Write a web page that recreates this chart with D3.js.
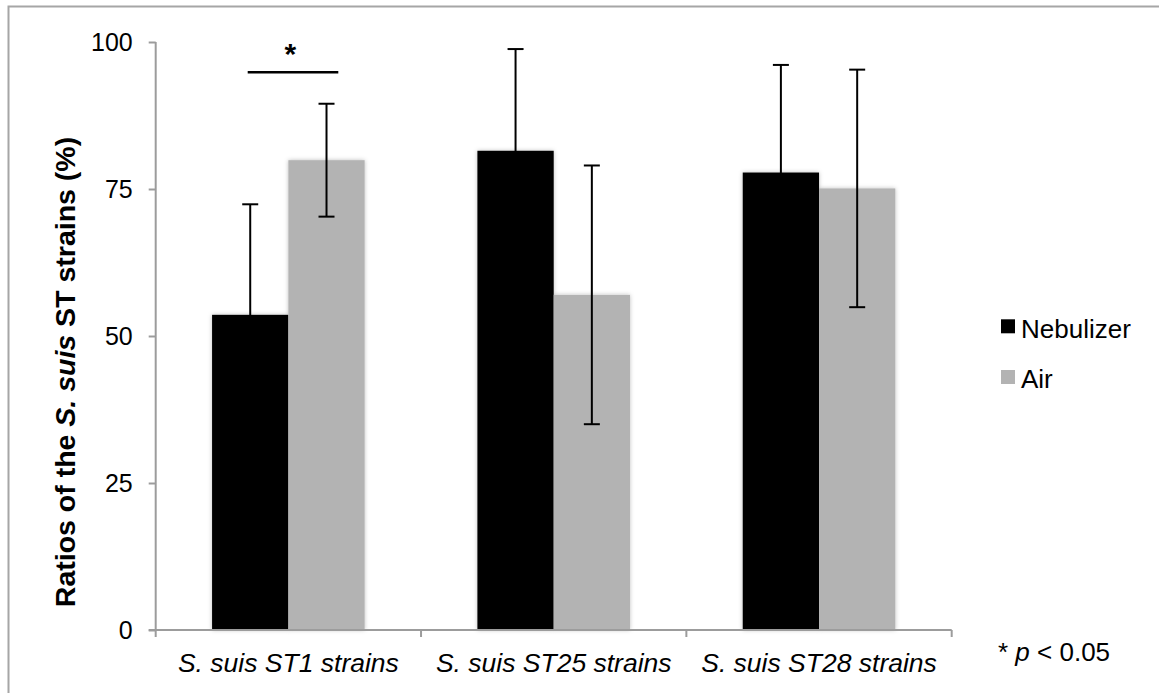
<!DOCTYPE html>
<html>
<head>
<meta charset="utf-8">
<script src="https://cdn.jsdelivr.net/npm/d3@7/dist/d3.min.js"></script>
<style>
  html, body { margin: 0; padding: 0; background: #fff; }
  svg { display: block; font-family: "Liberation Sans", Arial, Helvetica, sans-serif; }
</style>
</head>
<body>
<svg id="chart" width="1159" height="693"></svg>
<script>
const categories = ["S. suis ST1 strains", "S. suis ST25 strains", "S. suis ST28 strains"];
const seriesNames = ["Nebulizer", "Air"];
const nebulizer = [53.6, 81.5, 77.8];
const nebulizerErr = [18.8, 17.3, 18.3];
const air = [79.9, 57.0, 75.1];
const airErr = [9.6, 22.0, 20.2];
const yTicks = [0, 25, 50, 75, 100];
const colors = { Nebulizer: "#000000", Air: "#b3b3b3" };

const svg = d3.select("#chart");

// outer frame
svg.append("rect").attr("x", 8.5).attr("y", 6.5).attr("width", 1300).attr("height", 900)
  .attr("fill", "none").attr("stroke", "#a6a6a6").attr("stroke-width", 2);

const defs = svg.append("defs");
const f = defs.append("filter").attr("id", "shadow").attr("x", "-20%").attr("y", "-5%").attr("width", "140%").attr("height", "110%");
f.append("feDropShadow").attr("dx", 0).attr("dy", 0).attr("stdDeviation", 2).attr("flood-color", "#000").attr("flood-opacity", 0.25);

const pLeft = 155.7, pRight = 951.7, pTop = 42, pBottom = 630;

const x0 = d3.scaleBand().domain(categories).range([pLeft, pRight]).paddingInner(0).paddingOuter(0);
const x1 = d3.scaleBand().domain(seriesNames).range([0, x0.bandwidth()]).paddingInner(0).paddingOuter(0.739);
const y = d3.scaleLinear().domain([0, 100]).range([pBottom, pTop]);

const data = categories.map((c, i) => ({
  cat: c,
  vals: [
    { s: "Nebulizer", v: nebulizer[i], e: nebulizerErr[i] },
    { s: "Air", v: air[i], e: airErr[i] }
  ]
}));

// bars
const g = svg.append("g");
const groups = g.selectAll("g.grp").data(data).join("g").attr("class", "grp")
  .attr("transform", d => `translate(${x0(d.cat)},0)`);
groups.selectAll("rect").data(d => d.vals).join("rect")
  .attr("x", d => x1(d.s)).attr("width", x1.bandwidth())
  .attr("y", d => y(d.v)).attr("height", d => y(0) - y(d.v))
  .attr("fill", d => colors[d.s]).attr("filter", "url(#shadow)");

// error bars
const capW = 16;
groups.each(function(d) {
  const gg = d3.select(this);
  d.vals.forEach(v => {
    const cx = x1(v.s) + x1.bandwidth() / 2;
    gg.append("line").attr("x1", cx).attr("x2", cx).attr("y1", y(v.v + v.e)).attr("y2", y(v.v - v.e))
      .attr("stroke", "#000").attr("stroke-width", 2);
    [v.v + v.e, v.v - v.e].forEach(t => {
      gg.append("line").attr("x1", cx - capW / 2).attr("x2", cx + capW / 2).attr("y1", y(t)).attr("y2", y(t))
        .attr("stroke", "#000").attr("stroke-width", 2);
    });
  });
});

// axes
const axisColor = "#9c9c9c";
const yAxis = svg.append("g").attr("transform", `translate(${pLeft},0)`)
  .call(d3.axisLeft(y).tickValues(yTicks).tickSize(7).tickPadding(16).tickFormat(d3.format("d")));
yAxis.select(".domain").remove();
yAxis.append("line").attr("x1", 0).attr("x2", 0).attr("y1", pTop).attr("y2", pBottom).attr("stroke", axisColor).attr("stroke-width", 2);
yAxis.selectAll(".tick line").attr("stroke", axisColor).attr("stroke-width", 2);
yAxis.selectAll(".tick text").attr("fill", "#000").style("font-size", "25px").style("font-family", "'Liberation Sans', Arial, sans-serif");

const xAxis = svg.append("g").attr("transform", `translate(0,${pBottom})`)
  .call(d3.axisBottom(x0).tickSize(0).tickPadding(0));
xAxis.select(".domain").remove();
xAxis.append("line").attr("x1", pLeft - 7).attr("x2", pRight).attr("y1", 0).attr("y2", 0).attr("stroke", axisColor).attr("stroke-width", 2);
const boundaries = [x0(categories[0])].concat(categories.map(c => x0(c) + x0.bandwidth()));
xAxis.selectAll("line.bt").data(boundaries).join("line").attr("class", "bt")
  .attr("x1", d => d).attr("x2", d => d).attr("y1", 0).attr("y2", 7).attr("stroke", axisColor).attr("stroke-width", 2);
xAxis.selectAll(".tick text").attr("fill", "#000").attr("dy", null).attr("y", 42)
  .style("font-size", "26.5px").style("font-style", "italic").style("font-family", "'Liberation Sans', Arial, sans-serif");

// significance
svg.append("line").attr("x1", 247.7).attr("x2", 338.3).attr("y1", 72.3).attr("y2", 72.3)
  .attr("stroke", "#000").attr("stroke-width", 2.5);
svg.append("text").attr("x", x0(categories[0]) + x0.bandwidth() / 2 + 2).attr("y", 64).attr("text-anchor", "middle")
  .style("font-size", "30px").style("font-weight", "bold").text("*");

// y label
const yl = svg.append("text").attr("transform", "translate(75,372) rotate(-90)").attr("text-anchor", "middle")
  .style("font-size", "28.5px").style("font-weight", "bold");
yl.append("tspan").text("Ratios of the ");
yl.append("tspan").style("font-style", "italic").text("S. suis");
yl.append("tspan").text(" ST strains (%)");

// legend
const lg = svg.append("g");
seriesNames.forEach((s, i) => {
  const yy = 319.3 + i * 50.7;
  lg.append("rect").attr("x", 1001).attr("y", yy).attr("width", 14).attr("height", 14).attr("fill", colors[s]);
  lg.append("text").attr("x", 1021).attr("y", yy + 18.4).style("font-size", "26px").text(s);
});

// p note
const pn = svg.append("text").attr("x", 998).attr("y", 661).style("font-size", "26px");
pn.append("tspan").text("* ");
pn.append("tspan").style("font-style", "italic").text("p");
pn.append("tspan").text(" < 0.05");
</script>
</body>
</html>
